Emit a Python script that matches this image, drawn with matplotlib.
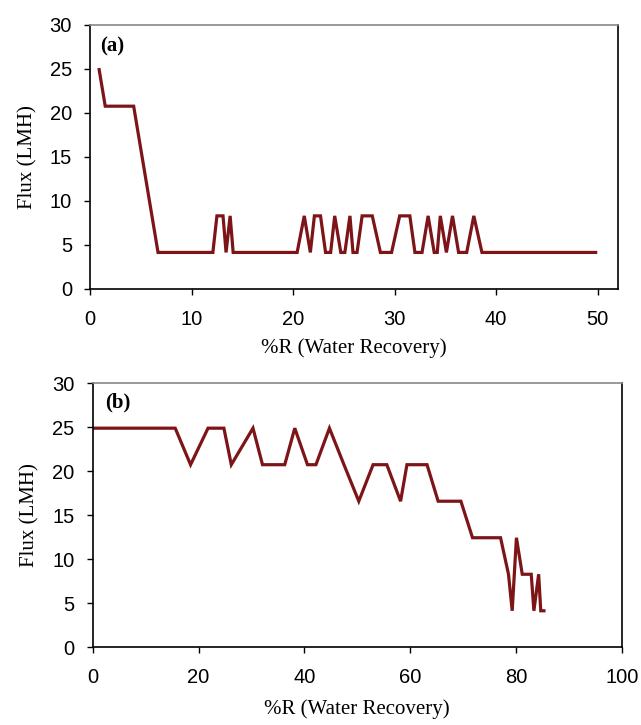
import matplotlib
matplotlib.use("Agg")
import matplotlib.pyplot as plt

# Panel (a) data
rec_a = [0.9, 1.5, 4.3, 5.5, 6.1, 6.7, 9.5, 10.3, 10.8, 12.1, 12.5, 13.1, 13.4, 13.8, 14.1,
         14.9, 17.9, 20.4, 21.1, 21.7, 22.1, 22.7, 23.2, 23.7, 24.1, 24.7, 25.1, 25.6, 25.9,
         26.3, 26.8, 27.8, 28.6, 29.7, 30.5, 31.5, 32.0, 32.7, 33.3, 33.9, 34.2, 34.5, 35.1,
         35.7, 36.3, 37.1, 37.8, 38.6, 49.8]
flux_a = [24.9, 20.75, 20.75, 12.45, 8.3, 4.15, 4.15, 4.15, 4.15, 4.15, 8.3, 8.3, 4.15, 8.3, 4.15,
          4.15, 4.15, 4.15, 8.3, 4.15, 8.3, 8.3, 4.15, 4.15, 8.3, 4.15, 4.15, 8.3, 4.15,
          4.15, 8.3, 8.3, 4.15, 4.15, 8.3, 8.3, 4.15, 4.15, 8.3, 4.15, 4.15, 8.3, 4.15,
          8.3, 4.15, 4.15, 8.3, 4.15, 4.15]

# Panel (b) data
rec_b = [0, 15.6, 18.5, 21.8, 24.8, 26.2, 30.3, 32.1, 36.3, 38.2, 40.6, 42.2, 44.75, 47.5,
         50.3, 53.0, 55.6, 58.2, 59.4, 63.2, 65.3, 69.6, 71.8, 77.1, 78.6, 79.3, 80.1, 81.2,
         82.9, 83.4, 84.3, 84.7, 85.3]
flux_b = [24.9, 24.9, 20.75, 24.9, 24.9, 20.75, 24.9, 20.75, 20.75, 24.9, 20.75, 20.75, 24.9, 20.75,
          16.6, 20.75, 20.75, 16.6, 20.75, 20.75, 16.6, 16.6, 12.45, 12.45, 8.3, 4.15, 12.45, 8.3,
          8.3, 4.15, 8.3, 4.15, 4.15]

xticks_a = [0, 10, 20, 30, 40, 50]
xticks_b = [0, 20, 40, 60, 80, 100]
yticks = [0, 5, 10, 15, 20, 25, 30]

LINE = "#7d1518"
W, H = 641, 725
fig = plt.figure(figsize=(W / 100, H / 100), dpi=100)

ax_a = fig.add_axes([90 / W, 1 - 289 / H, 528 / W, 264.3 / H])
ax_b = fig.add_axes([92.7 / W, 1 - 647.3 / H, 529 / W, 264 / H])

serif = ["Liberation Serif", "DejaVu Serif"]
sans = ["Liberation Sans", "DejaVu Sans"]

for ax, x, y, xt, xlim, tag, tagpos, xlpad in [
    (ax_a, rec_a, flux_a, xticks_a, (0, 52), "(a)", (0.019, 0.955), 7),
    (ax_b, rec_b, flux_b, xticks_b, (0, 100), "(b)", (0.023, 0.965), 9),
]:
    ax.plot(x, y, color=LINE, lw=2.3, solid_joinstyle="miter")
    ax.set_xlim(*xlim)
    ax.set_ylim(0, 30)
    ax.set_xticks(xt)
    ax.set_yticks(yticks)
    ax.tick_params(direction="out", length=4.5, width=1, labelsize=14.5, color="black")
    ax.tick_params(axis="x", pad=10.5)
    ax.tick_params(axis="y", pad=8.5)
    for lab in ax.get_xticklabels() + ax.get_yticklabels():
        lab.set_family(sans)
    for s in ["left", "bottom", "right"]:
        ax.spines[s].set_color("black")
        ax.spines[s].set_linewidth(1.2)
    ax.spines["top"].set_color("#888888")
    ax.spines["top"].set_linewidth(1.2)
    ax.set_xlabel("%R (Water Recovery)", family=serif, fontsize=15, labelpad=xlpad)
    ax.set_ylabel("Flux (LMH)", family=serif, fontsize=15, labelpad=9)
    ax.text(tagpos[0], tagpos[1], tag, transform=ax.transAxes, ha="left", va="top",
            family=serif, fontweight="bold", fontsize=15)

fig.savefig("out.png", dpi=100)
